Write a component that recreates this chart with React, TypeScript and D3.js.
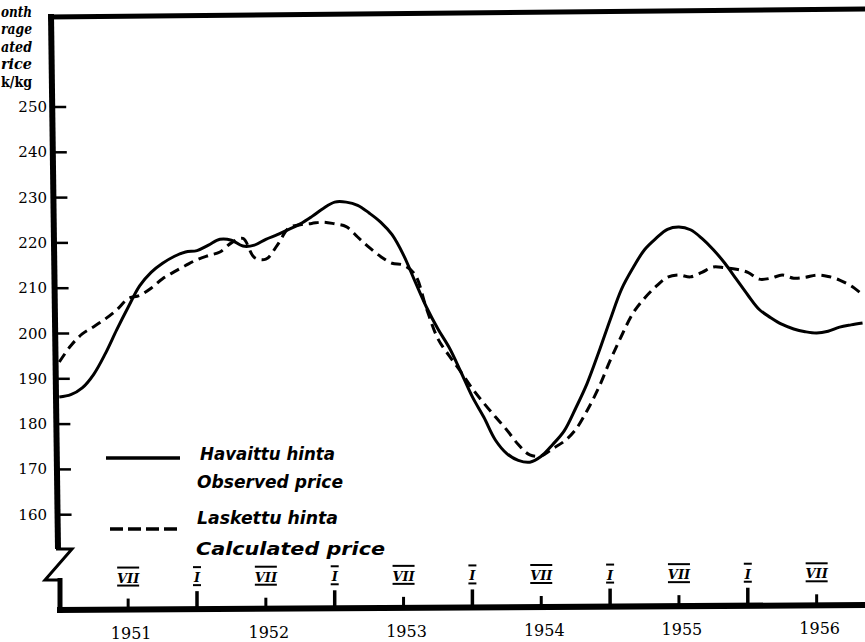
import React, { useEffect, useRef } from 'react';
import * as d3 from 'd3';

// monthly values, Jan 1951 .. Nov 1956 (mk/kg)
const observed = [
  186, 186.5, 188, 191, 195.5, 200.8, 205.8, 210.5, 213.5, 215.5, 217, 218,
  218.3, 219.5, 220.8, 220.6, 219.3, 219.5, 220.8, 221.8, 223, 224.2, 225.8, 227.6,
  229, 229, 228.3, 226.6, 224.6, 221.8, 217.3, 211.5, 205.8, 201, 196.8, 191.5,
  186, 181.5, 176.5, 173.5, 172, 171.6, 172.9, 175.5, 178.5, 183.5, 189, 195.8,
  203, 209.8, 214.5, 218.5, 221, 223, 223.5, 222.9, 221, 218.5, 215.5, 212,
  208.5, 205.3, 203.5, 202, 201, 200.4, 200.1, 200.5, 201.4, 201.9, 202.3,
];
const calculated = [
  193.7, 197.3, 199.9, 201.5, 203.2, 205.2, 207.7, 208.4, 210, 212.1, 213.6, 215,
  216.3, 217.2, 218, 220, 221, 216.8, 216.4, 219.5, 223.3, 224, 224.3, 224.6,
  224.2, 223.6, 221.3, 219, 217, 215.5, 215.1, 213, 205.5, 198.8, 195, 191.5,
  187.8, 184.6, 181.6, 178.7, 175.5, 173.2, 173, 174.6, 176.2, 178.8, 183, 188,
  194, 199.5, 204.5, 207.8, 210.4, 212.4, 212.9, 212.5, 213.5, 214.7, 214.5, 214.2,
  213.5, 212, 212.2, 212.9, 212.2, 212.4, 212.9, 212.6, 211.8, 210.5, 208.6,
];
const yTicks = [160, 170, 180, 190, 200, 210, 220, 230, 240, 250];
const years = ['1951', '1952', '1953', '1954', '1955', '1956'];
const halfYearTicks = [
  { m: 6, label: 'VII' }, { m: 12, label: 'I' }, { m: 18, label: 'VII' }, { m: 24, label: 'I' },
  { m: 30, label: 'VII' }, { m: 36, label: 'I' }, { m: 42, label: 'VII' }, { m: 48, label: 'I' },
  { m: 54, label: 'VII' }, { m: 60, label: 'I' }, { m: 66, label: 'VII' },
];
// only the ends of the unit title are visible in the scan
const titleLines = ['onth', 'rage', 'ated', 'rice', 'k/kg'];

const W = 865;
const H = 642;

const Chart: React.FC = () => {
  const ref = useRef<SVGSVGElement | null>(null);

  useEffect(() => {
    if (!ref.current) return;
    const svg = d3.select(ref.current);
    svg.selectAll('*').remove();

    const x = d3.scaleLinear().domain([0, 12]).range([59.3, 197]);
    const y = d3.scaleLinear().domain([160, 250]).range([514.7, 107]);

    // axis lines follow the slight tilt of the scanned sheet
    const axisX = (yy: number) => 51 + (yy - 15) * (7 / 534);
    const baseY = (xx: number) => 610 - (xx - 57) * (5 / 808);

    svg.append('rect').attr('width', W).attr('height', H).attr('fill', 'white');

    // frame: top line and left axis
    svg.append('line')
      .attr('x1', 48).attr('y1', 17).attr('x2', W).attr('y2', 9)
      .attr('stroke', '#000').attr('stroke-width', 5);
    svg.append('line')
      .attr('x1', axisX(15)).attr('y1', 14).attr('x2', axisX(549)).attr('y2', 549)
      .attr('stroke', '#000').attr('stroke-width', 6);

    // axis break zigzag
    svg.append('path')
      .attr('d', 'M56,549 L72,549 L45,580 L62,580')
      .attr('fill', 'none').attr('stroke', '#000').attr('stroke-width', 3)
      .attr('stroke-linejoin', 'miter');
    svg.append('line')
      .attr('x1', 60).attr('y1', 578).attr('x2', 60).attr('y2', 613)
      .attr('stroke', '#000').attr('stroke-width', 5);

    // bottom axis
    svg.append('line')
      .attr('x1', 57).attr('y1', baseY(57)).attr('x2', W).attr('y2', baseY(W))
      .attr('stroke', '#000').attr('stroke-width', 6);

    // y ticks + labels
    yTicks.forEach(v => {
      const yy = y(v);
      const ax = axisX(yy);
      svg.append('line')
        .attr('x1', ax).attr('y1', yy).attr('x2', ax + 14).attr('y2', yy)
        .attr('stroke', '#000').attr('stroke-width', 2.5);
      svg.append('text')
        .attr('x', 47).attr('y', yy + 5)
        .attr('text-anchor', 'end')
        .attr('font-family', 'DejaVu Serif')
        .attr('font-size', 15)
        .text(v);
    });

    // unit title
    titleLines.forEach((t, i) => {
      svg.append('text')
        .attr('x', 1).attr('y', 17 + i * 17.4)
        .attr('font-family', 'DejaVu Serif')
        .attr('font-style', i === 4 ? 'normal' : 'italic')
        .attr('font-weight', 'bold')
        .attr('font-size', 14)
        .attr('textLength', 31)
        .attr('lengthAdjust', 'spacingAndGlyphs')
        .text(t);
    });

    // half-year ticks with roman month labels
    halfYearTicks.forEach(d => {
      const xx = x(d.m);
      const b = baseY(xx);
      const isJan = d.label === 'I';
      svg.append('line')
        .attr('x1', xx).attr('y1', b - (isJan ? 18 : 11)).attr('x2', xx).attr('y2', b)
        .attr('stroke', '#000').attr('stroke-width', isJan ? 3.5 : 3);
      const half = isJan ? 4 : 11;
      [b - 42, b - 24].forEach(ly => {
        svg.append('line')
          .attr('x1', xx - half).attr('y1', ly).attr('x2', xx + half).attr('y2', ly)
          .attr('stroke', '#000').attr('stroke-width', 2);
      });
      svg.append('text')
        .attr('x', xx).attr('y', b - 27)
        .attr('text-anchor', 'middle')
        .attr('font-family', 'DejaVu Serif')
        .attr('font-style', 'italic')
        .attr('font-weight', 'bold')
        .attr('font-size', 13)
        .text(d.label);
    });

    // year labels centred under July
    years.forEach((yr, i) => {
      const xx = x(i * 12 + 6) + 3;
      svg.append('text')
        .attr('x', xx).attr('y', baseY(xx) + 29)
        .attr('text-anchor', 'middle')
        .attr('font-family', 'DejaVu Serif')
        .attr('font-size', 16)
        .text(yr);
    });

    const line = d3.line<number>()
      .x((_, i) => x(i))
      .y(d => y(d))
      .curve(d3.curveCatmullRom.alpha(0.5));

    svg.append('path')
      .attr('d', line(calculated) || '')
      .attr('fill', 'none').attr('stroke', '#000').attr('stroke-width', 3)
      .attr('stroke-dasharray', '10,6');
    svg.append('path')
      .attr('d', line(observed) || '')
      .attr('fill', 'none').attr('stroke', '#000').attr('stroke-width', 3);

    // legend
    svg.append('line')
      .attr('x1', 106).attr('y1', 458).attr('x2', 180).attr('y2', 458)
      .attr('stroke', '#000').attr('stroke-width', 3.5);
    svg.append('line')
      .attr('x1', 110).attr('y1', 529).attr('x2', 178).attr('y2', 529)
      .attr('stroke', '#000').attr('stroke-width', 3.5)
      .attr('stroke-dasharray', '13,5');

    const legendText = [
      { t: 'Havaittu hinta', x: 200, y: 460, w: 135 },
      { t: 'Observed price', x: 197, y: 488, w: 146 },
      { t: 'Laskettu hinta', x: 197, y: 524, w: 141 },
      { t: 'Calculated price', x: 196, y: 555, w: 189 },
    ];
    legendText.forEach(d => {
      svg.append('text')
        .attr('x', d.x).attr('y', d.y)
        .attr('font-family', 'DejaVu Sans')
        .attr('font-style', 'italic')
        .attr('font-weight', 'bold')
        .attr('font-size', 18)
        .attr('textLength', d.w)
        .attr('lengthAdjust', 'spacingAndGlyphs')
        .text(d.t);
    });
  }, []);

  return (
    <svg
      ref={ref}
      width={W}
      height={H}
      style={{ position: 'absolute', left: 0, top: 0, display: 'block' }}
    />
  );
};

export default function App() {
  return <Chart />;
}
